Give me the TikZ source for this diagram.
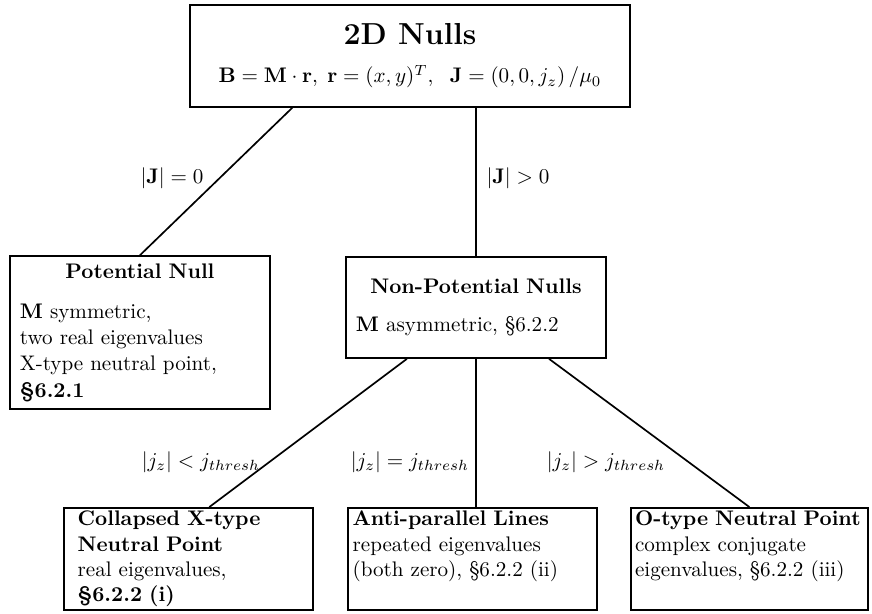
\documentclass[tikz,border=0pt]{standalone}
\usepackage{amsmath}
\usetikzlibrary{positioning}

\tikzset{
	nullbox/.style={draw,line width=0.8pt,inner xsep=0.17cm,align=left},
	leafbox/.style={draw,line width=0.8pt,anchor=north west,align=left,inner ysep=1.5pt,text height=7pt,text depth=38.5pt},
	branch/.style={line width=0.8pt}
}

\begin{document}
\begin{tikzpicture}
			\useasboundingbox (0,0) rectangle (14.533,10.217);
			
			\node[nullbox,align=center,minimum width=7.333cm,minimum height=1.7cm] (top) at (6.833,9.283)
			{{\Large\bfseries 2D Nulls}\\[6pt]
			 $\mathbf{B}=\mathbf{M}\cdot\mathbf{r},\;\mathbf{r}=(x,y)^T,\ \;\mathbf{J}=(0,0,j_z)\,/\mu_0$};
			
			\node[nullbox,text width=4.0cm,minimum height=2.55cm] (pot) at (2.333,4.675)
			{\makebox[\linewidth]{\bfseries Potential Null}\\[7pt]
			 \textbf{M} symmetric,\\[0.5pt] two real eigenvalues\\[0.5pt] X-type neutral point,\\[0.5pt] \textbf{\S6.2.1}};
			
			\node[nullbox,text width=4.0cm,minimum height=1.683cm] (np) at (7.933,5.092)
			{\makebox[\linewidth]{\bfseries Non-Potential Nulls}\\[6pt]
			 \textbf{M} asymmetric, \S6.2.2};
			
			\node[leafbox,inner xsep=0.23cm,text width=3.69cm] (col) at (1.05,1.767)
			{\textbf{Collapsed X-type}\\ \textbf{Neutral Point}\\ real eigenvalues,\\ \textbf{\S6.2.2 (i)}};
			\node[leafbox,inner xsep=0.08cm,text width=3.99cm] (anti) at (5.783,1.767)
			{\textbf{Anti-parallel Lines}\\ repeated eigenvalues\\ (both zero), \S6.2.2 (ii)};
			\node[leafbox,inner xsep=0.07cm,text width=3.81cm] (otype) at (10.5,1.767)
			{\textbf{O-type Neutral Point}\\ complex conjugate\\ eigenvalues, \S6.2.2 (iii)};
			
			% branches
			\draw[branch] ([xshift=1.717cm]top.south west) -- (pot.north);
			\draw[branch] (np.north |- top.south) -- (np.north);
			\draw[branch] ([xshift=1.033cm]np.south west) -- ([xshift=0.35cm]col.north);
			\draw[branch] (np.south) -- (np.south |- anti.north);
			\draw[branch] ([xshift=-0.967cm]np.south east) -- (otype.north);
			
			\node (j0) at (2.867,7.25) {$|\mathbf{J}|=0$};
			\node (jpos) at (8.633,7.25) {$|\mathbf{J}|>0$};
			
			\node (jlt) at (3.35,2.517) {$|j_z|<j_{thresh}$};
			\node (jeq) at (6.833,2.517) {$|j_z|=j_{thresh}$};
			\node (jgt) at (10.1,2.517) {$|j_z|>j_{thresh}$};
\end{tikzpicture}
\end{document}
